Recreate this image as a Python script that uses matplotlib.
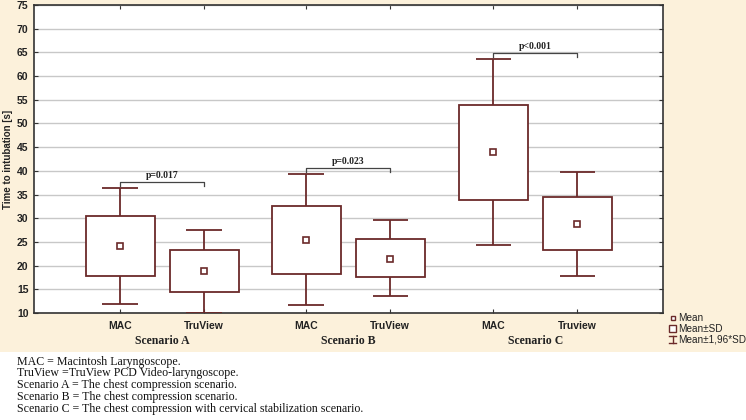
import numpy as np
import matplotlib.pyplot as plt
from matplotlib.patches import Rectangle

# values
groups = ["Scenario A", "Scenario B", "Scenario C"]
devices = ["MAC", "TruView", "MAC", "TruView", "MAC", "Truview"]
means = [24.1, 18.8, 25.5, 21.5, 44.0, 28.8]
sd_low = [17.9, 14.4, 18.3, 17.6, 33.9, 23.2]
sd_high = [30.4, 23.2, 32.5, 25.7, 53.9, 34.4]
ci_low = [12.0, 10.1, 11.7, 13.6, 24.3, 17.9]
ci_high = [36.3, 27.6, 39.3, 29.6, 63.7, 39.8]
p_labels = ["p=0.017", "p=0.023", "p<0.001"]
p_heights = [37.7, 40.6, 64.9]
footnotes = [
    "MAC = Macintosh Laryngoscope.",
    "TruView =TruView PCD Video-laryngoscope.",
    "Scenario A = The chest compression scenario.",
    "Scenario B = The chest compression scenario.",
    "Scenario C = The chest compression with cervical stabilization scenario.",
]

dark = "#6B2A2A"
beige = "#FCF1DB"
serif = ["Liberation Serif", "DejaVu Serif"]
sans = ["Liberation Sans", "DejaVu Sans"]

# x positions (groups separated by a wider gap)
xpos = np.array([0, 1, 2.214, 3.214, 4.44, 5.44])

fig = plt.figure(figsize=(7.46, 4.20), dpi=100)
fig.patch.set_facecolor("white")
fig.patches.append(Rectangle((0, 1 - 352 / 420), 1, 352 / 420, transform=fig.transFigure,
                             facecolor=beige, edgecolor="none", zorder=-10))

ax = fig.add_axes([34 / 746, 1 - 313 / 420, (663 - 34) / 746, (313 - 5) / 420])
ax.set_facecolor("white")
ax.set_xlim(-1.024, 6.46)
ax.set_ylim(10, 75)
ax.set_yticks(np.arange(10, 76, 5))
ax.yaxis.grid(True, color="#C8C8C8", lw=1)
ax.set_axisbelow(True)

for sp in ax.spines.values():
    sp.set_color("#333333")
    sp.set_linewidth(1.2)

# boxes = mean +- SD, whiskers = mean +- 1.96*SD
box_w = 0.82
cap_w = 0.42
ax.bar(xpos, np.array(sd_high) - np.array(sd_low), bottom=sd_low, width=box_w,
       facecolor="white", edgecolor=dark, lw=1.3, zorder=3)
ax.vlines(xpos, sd_high, ci_high, color=dark, lw=1.3, zorder=3)
ax.vlines(xpos, ci_low, sd_low, color=dark, lw=1.3, zorder=3)
ax.hlines(ci_high, xpos - cap_w / 2, xpos + cap_w / 2, color=dark, lw=1.3, zorder=3)
ax.hlines(ci_low, xpos - cap_w / 2, xpos + cap_w / 2, color=dark, lw=1.3, zorder=3)
ax.plot(xpos, means, "s", ms=4, mfc="white", mec=dark, mew=1.2, zorder=4)

# p-value brackets
for i in range(3):
    x0, x1 = xpos[2 * i], xpos[2 * i + 1]
    h = p_heights[i]
    ax.plot([x0, x0, x1, x1], [h - 0.8, h, h, h - 0.8], color="#444444", lw=0.9, zorder=3)
    ax.text((x0 + x1) / 2, h + 0.4, p_labels[i], ha="center", va="bottom",
            fontsize=7, family=serif, weight="bold", color="#222222")

ax.set_xticks(xpos)
ax.set_xticklabels(devices, family=sans, fontsize=7.5, weight="bold", color="#222222")
ax.tick_params(axis="both", direction="in", length=3, top=True, right=True,
               labeltop=False, labelright=False, color="#333333")
ax.tick_params(axis="x", pad=6)
for lab in ax.get_yticklabels():
    lab.set_family(sans)
    lab.set_fontsize(7.5)
    lab.set_weight("bold")
    lab.set_color("#222222")
ax.tick_params(axis="y", pad=4)
ax.set_ylabel("Time to intubation [s]", family=sans, fontsize=7, weight="bold",
              color="#222222", labelpad=3)

# group labels under the tick labels
for i, g in enumerate(groups):
    gx = (xpos[2 * i] + xpos[2 * i + 1]) / 2
    ax.annotate(g, xy=(gx, 0), xycoords=("data", "axes fraction"),
                xytext=(0, -20.5), textcoords="offset points", ha="center", va="center",
                family=serif, fontsize=8.5, weight="bold", color="#222222")

# legend drawn by hand
lx = 672.5 / 746
leg_y = [318, 328.5, 339]
leg_text = ["Mean", "Mean±SD", "Mean±1,96*SD"]
hw, hh = 3.5 / 746, 3.5 / 420
fig.lines.append(plt.Line2D([lx], [1 - leg_y[0] / 420], marker="s", ms=3, mfc="white",
                            mec=dark, mew=1, transform=fig.transFigure))
fig.patches.append(Rectangle((lx - hw, 1 - leg_y[1] / 420 - hh), 2 * hw, 2 * hh,
                             transform=fig.transFigure, facecolor="white", edgecolor=dark, lw=1))
yy = 1 - leg_y[2] / 420
fig.lines.append(plt.Line2D([lx, lx], [yy - hh, yy + hh], color=dark, lw=1,
                            transform=fig.transFigure))
for d in (-hh, hh):
    fig.lines.append(plt.Line2D([lx - hw, lx + hw], [yy + d] * 2, color=dark, lw=1,
                                transform=fig.transFigure))
for t, y in zip(leg_text, leg_y):
    fig.text(678.5 / 746, 1 - y / 420, t, ha="left", va="center", family=sans,
             fontsize=7.2, color="#222222")

# footnotes
for k, line in enumerate(footnotes):
    fig.text(17 / 746, 1 - (361.5 + 11.8 * k) / 420, line, ha="left", va="center",
             family=serif, fontsize=8.6, color="#111111")

fig.savefig("out.png", dpi=100, facecolor=fig.get_facecolor())
